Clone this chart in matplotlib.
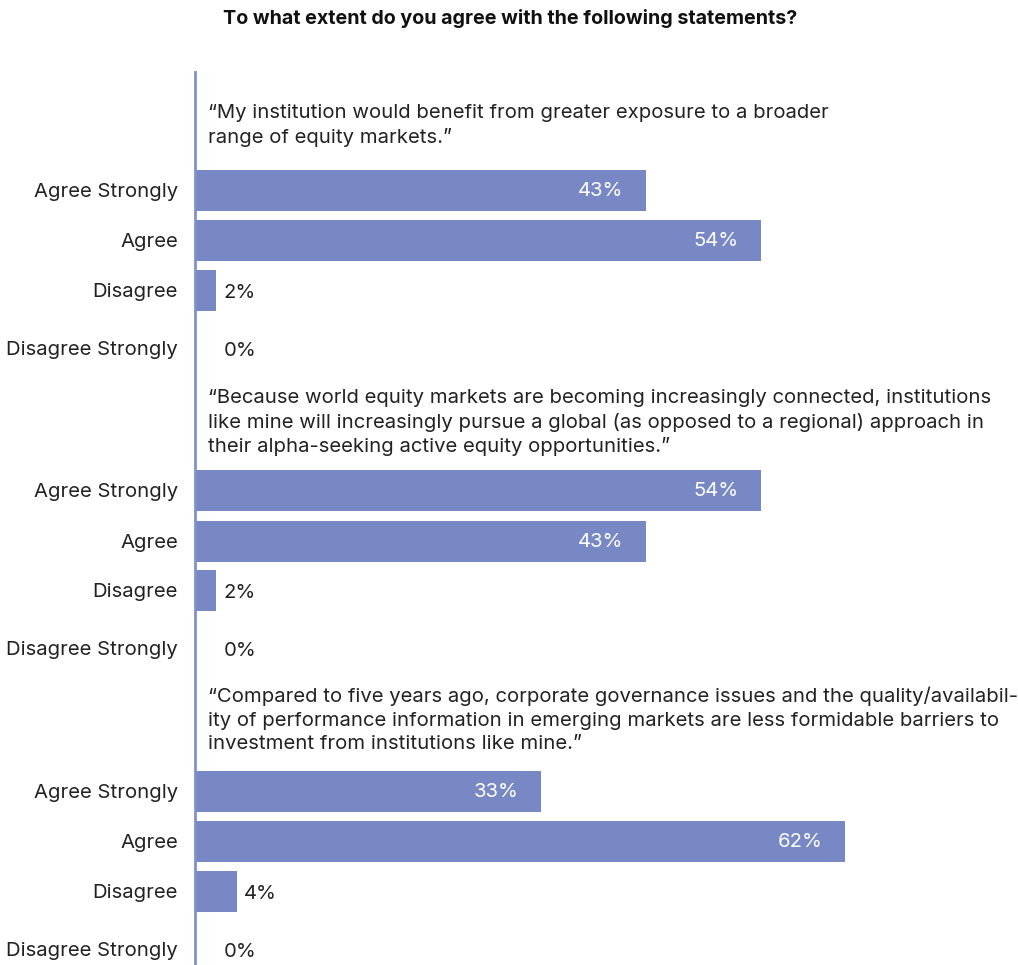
import matplotlib.pyplot as plt

plt.rcParams['font.family'] = ['Inter', 'DejaVu Sans']

title = 'To what extent do you agree with the following statements?'
answers = ['Agree Strongly', 'Agree', 'Disagree', 'Disagree Strongly']
statements = [
    '\u201cMy institution would benefit from greater exposure to a broader\nrange of equity markets.\u201d',
    '\u201cBecause world equity markets are becoming increasingly connected, institutions\n'
    'like mine will increasingly pursue a global (as opposed to a regional) approach in\n'
    'their alpha-seeking active equity opportunities.\u201d',
    '\u201cCompared to five years ago, corporate governance issues and the quality/availabil-\n'
    'ity of performance information in emerging markets are less formidable barriers to\n'
    'investment from institutions like mine.\u201d',
]
values = [
    [43, 54, 2, 0],
    [54, 43, 2, 0],
    [33, 62, 4, 0],
]

# layout (pixel rows from the top of the figure)
statement_top = [104, 389, 687]
row_pos = [[190, 240, 290, 348], [490, 541, 590, 648], [791, 841, 891, 949]]
bar_color = '#7788c4'
text_color = '#222222'
px_per_pct = 10.48
fs = 14.6

fig = plt.figure(figsize=(10.18, 9.65), dpi=100)
left = 195 / 1018
ax = fig.add_axes([left, 0, 1 - left, 1])
ax.set_ylim(965, 0)
ax.set_xlim(0, (1018 - 195) / px_per_pct)

for g in range(3):
    ax.text(1.2, statement_top[g], statements[g], fontsize=fs, color=text_color,
            va='top', ha='left', linespacing=1.37)
    for i, v in enumerate(values[g]):
        y = row_pos[g][i]
        if v > 0:
            ax.barh(y, v, height=41, color=bar_color, edgecolor='none')
        if v >= 10:
            ax.text(v - 2.1, y + 1, f'{v}%', color='white', fontsize=fs,
                    ha='right', va='center')
        else:
            ax.text(max(v, 2) + 0.7, y + 3, f'{v}%', color=text_color,
                    fontsize=fs, ha='left', va='center')
        fig.text(178 / 1018, 1 - (y + 2) / 965, answers[i], fontsize=fs,
                 color=text_color, ha='right', va='center')

for s in ['top', 'right', 'bottom']:
    ax.spines[s].set_visible(False)
ax.spines['left'].set_color('#8090cc')
ax.spines['left'].set_linewidth(2)
ax.spines['left'].set_bounds(965, 72)
ax.set_xticks([])
ax.set_yticks([])

fig.text(510 / 1018, 1 - 18 / 965, title, fontsize=14.2, fontweight='bold',
         color='#111111', ha='center', va='center')

fig.savefig('out.png', dpi=100)
